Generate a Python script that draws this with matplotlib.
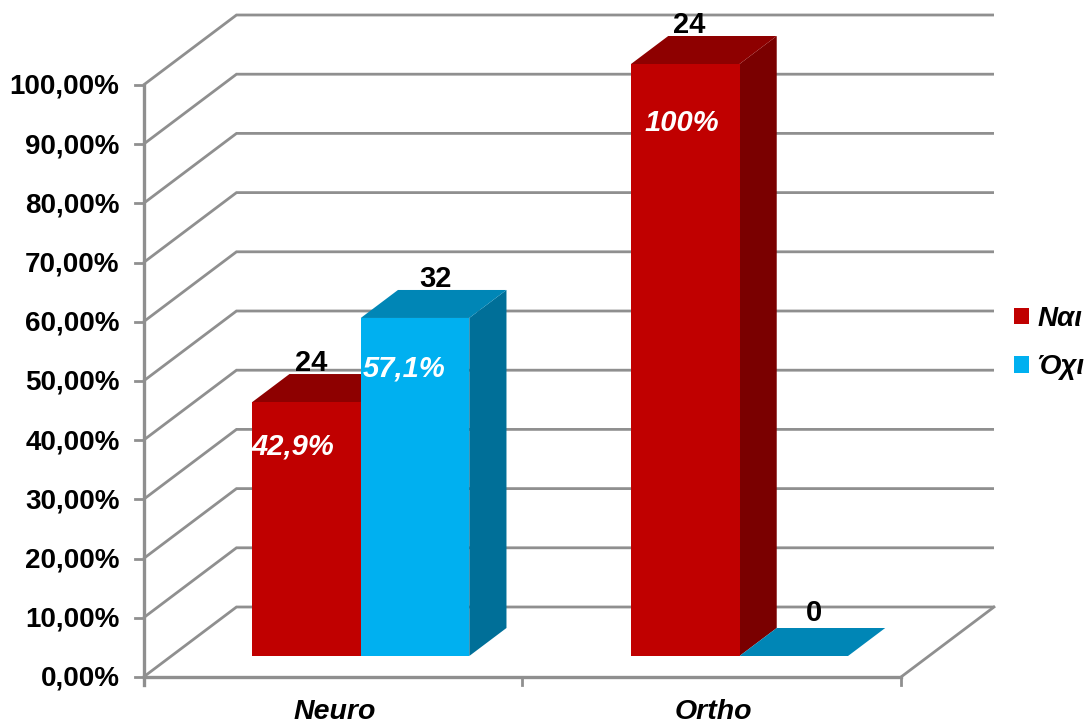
import matplotlib.pyplot as plt
from matplotlib.patches import Polygon, Patch

plt.rcParams['font.family'] = ['Liberation Sans', 'DejaVu Sans']

categorias = ['Neuro', 'Ortho']
series = ['Ναι', 'Όχι']
percent_nai = [42.9, 100]
percent_oxi = [57.1, 0]
n_nai = [24, 24]
n_oxi = [32, 0]
rotulos_nai = ['42,9%', '100%']
rotulos_oxi = ['57,1%', '']
ticks_y = [0, 10, 20, 30, 40, 50, 60, 70, 80, 90, 100]
rotulos_y = ['0,00%', '10,00%', '20,00%', '30,00%', '40,00%', '50,00%',
             '60,00%', '70,00%', '80,00%', '90,00%', '100,00%']

# pixel geometry of the fake 3D box
W, H = 1087, 724
X0, Y0 = 143.5, 677.0
PX_CAT = 378.75
PX_PCT = 5.92
DX = 93.0 / PX_CAT
DY = 70.0 / PX_PCT

# depth of the bars inside the box (0 front, 1 back wall)
D_FRENTE = 0.30
D_FUNDO = 0.70
LARG = 108.5 / PX_CAT

CINZA = '#8f8f8f'
VERMELHO = ('#C00000', '#8E0000', '#7A0000')
AZUL = ('#00B0F0', '#0086B6', '#006F98')


def proj(x, y, d):
    """Projeta (categoria, percentual, profundidade) no plano do eixo."""
    return x + d * DX, y + d * DY


def barra(ax, x, altura, cores, z):
    """Desenha uma barra 3D: lateral, topo e frente."""
    frente = [proj(x, 0, D_FRENTE), proj(x + LARG, 0, D_FRENTE),
              proj(x + LARG, altura, D_FRENTE), proj(x, altura, D_FRENTE)]
    topo = [proj(x, altura, D_FRENTE), proj(x + LARG, altura, D_FRENTE),
            proj(x + LARG, altura, D_FUNDO), proj(x, altura, D_FUNDO)]
    lado = [proj(x + LARG, 0, D_FRENTE), proj(x + LARG, 0, D_FUNDO),
            proj(x + LARG, altura, D_FUNDO), proj(x + LARG, altura, D_FRENTE)]
    ax.add_patch(Polygon(lado, fc=cores[2], ec='none', zorder=z))
    ax.add_patch(Polygon(topo, fc=cores[1], ec='none', zorder=z))
    ax.add_patch(Polygon(frente, fc=cores[0], ec='none', zorder=z))


fig = plt.figure(figsize=(W / 100, H / 100), dpi=100)
ax = fig.add_axes([0, 0, 1, 1])
ax.set_xlim(-X0 / PX_CAT, (W - X0) / PX_CAT)
ax.set_ylim(-(H - Y0) / PX_PCT, Y0 / PX_PCT)
ax.axis('off')

n_cat = len(categorias)

# grade: parede lateral + parede do fundo
for t in ticks_y:
    xa, ya = proj(0, t, 0)
    xb, yb = proj(0, t, 1)
    xc, yc = proj(n_cat, t, 1)
    ax.plot([xa, xb, xc], [ya, yb, yc], color=CINZA, lw=2.0, zorder=1,
            solid_joinstyle='miter', solid_capstyle='butt')
    ax.plot([-9 / PX_CAT, 0], [t, t], color=CINZA, lw=2.0, zorder=1)
    ax.text(-24 / PX_CAT, t - 2 / PX_PCT, rotulos_y[t // 10], ha='right', va='center',
            fontsize=20, fontweight='bold', color='black')

# eixos frontais e piso
ax.plot([0, 0], [-8 / PX_PCT, 100], color=CINZA, lw=2.4, zorder=1)
ax.plot([0, n_cat], [0, 0], color=CINZA, lw=2.4, zorder=1)
xb, yb = proj(n_cat, 0, 1)
ax.plot([n_cat, xb], [0, yb], color=CINZA, lw=2.0, zorder=1)
for i in range(1, n_cat + 1):
    ax.plot([i, i], [-8 / PX_PCT, 0], color=CINZA, lw=2.0, zorder=1)

# deslocamentos dos rótulos internos, em pixels (x, y)
desloc_nai = [(-14, 44), (-3, 59)]
desloc_oxi = [(-11, 51), (0, 0)]

# barras e rótulos
for i, cat in enumerate(categorias):
    x_nai = i + 0.5 - LARG
    x_oxi = i + 0.5
    barra(ax, x_nai, percent_nai[i], VERMELHO, 3)
    barra(ax, x_oxi, percent_oxi[i], AZUL, 4)

    ax.text(i + 0.5 + 2 / PX_CAT, -35 / PX_PCT, cat, ha='center', va='center',
            fontsize=20.5, fontweight='bold', fontstyle='italic')

    for x, alt, n, rot, d, dn in [
            (x_nai, percent_nai[i], n_nai[i], rotulos_nai[i], desloc_nai[i], -33),
            (x_oxi, percent_oxi[i], n_oxi[i], rotulos_oxi[i], desloc_oxi[i], -17)]:
        xt, yt = proj(x + LARG / 2, alt, D_FUNDO)
        ax.text(xt + dn / PX_CAT, yt + (15 if alt == 0 else 11) / PX_PCT, str(n),
                ha='center', va='center', fontsize=21, fontweight='bold', zorder=6)
        if rot:
            xr, yr = proj(x + LARG / 2, alt, D_FRENTE)
            ax.text(xr + d[0] / PX_CAT, yr - d[1] / PX_PCT, rot, ha='center', va='center',
                    color='white', fontsize=21, fontweight='bold', fontstyle='italic',
                    zorder=6)

handles = [Patch(fc=VERMELHO[0], ec='none'), Patch(fc=AZUL[0], ec='none')]
leg = ax.legend(handles, series, loc='center left',
                bbox_to_anchor=(1014 / W, 1 - 343 / H), frameon=False,
                handlelength=0.54, handleheight=0.54, handletextpad=0.29,
                labelspacing=0.82, borderpad=0, borderaxespad=0,
                prop={'family': ['Liberation Sans', 'DejaVu Sans'], 'size': 20,
                      'weight': 'bold', 'style': 'italic'})

fig.savefig('out.png', dpi=100)
